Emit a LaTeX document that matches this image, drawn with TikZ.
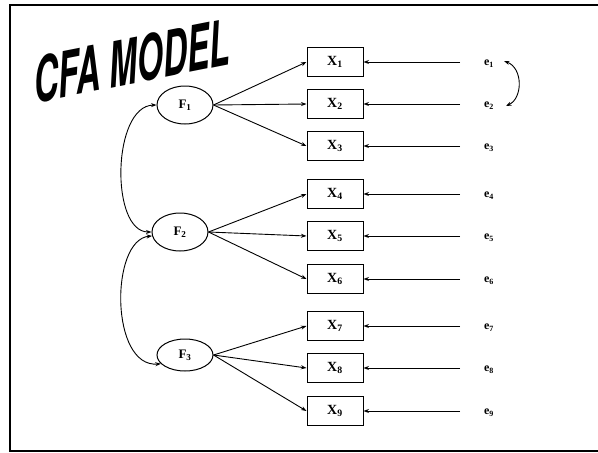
\documentclass[tikz,border=0pt]{standalone}
\usepackage{fontspec}
\setmainfont{Liberation Serif}
\newfontfamily\titlefont{TeX Gyre Heros}
\usetikzlibrary{arrows.meta,shapes.geometric}
\begin{document}
\begin{tikzpicture}[x=1pt,y=-1pt,
  obs/.style={draw,line width=1pt,minimum width=56pt,minimum height=29pt,inner sep=0pt,font=\fontsize{14}{14}\selectfont\bfseries},
  lat/.style={draw,ellipse,line width=1pt,minimum width=56pt,minimum height=38pt,inner sep=0pt,font=\fontsize{13}{13}\selectfont\bfseries},
  err/.style={font=\fontsize{12}{12}\selectfont\bfseries,inner sep=1pt},
  arr/.style={line width=0.9pt,-{Stealth[length=5.5pt,width=4pt]}},
  darr/.style={line width=0.9pt,{Stealth[length=5.5pt,width=4pt]}-{Stealth[length=5.5pt,width=4pt]}}
]
\useasboundingbox (0,0) rectangle (598,453);
% frame
\draw[line width=2pt] (598,5) -- (10,5) -- (10,451) -- (598,451);
% title
\node[font=\titlefont\fontsize{63}{63}\selectfont\bfseries\itshape,xscale=0.53,rotate=6] (ttl) at (132,61) {CFA MODEL};
% latent factors
\node[lat] (F1) at (185,105) {F$_{\mathbf 1}$};
\node[lat] (F2) at (180,232) {F$_{\mathbf 2}$};
\node[lat,minimum height=32pt] (F3) at (185,355) {F$_{\mathbf 3}$};
% observed
\foreach \i/\y in {1/62,2/104,3/146,4/194,5/236,6/279,7/326,8/368,9/411}{
  \node[obs] (X\i) at (335,\y) {X$_{\mathbf{\i}}$};
  \coordinate (c\i) at (460,\y);
  \node[err] (e\i) at (489,\y+2) {e$_{\mathbf{\i}}$};
  \draw[arr] (c\i) -- (X\i);
}
% loadings
\foreach \i in {1,2,3}{\draw[arr] (F1.east) -- (X\i.west);}
\foreach \i in {4,5,6}{\draw[arr] (F2.east) -- (X\i.west);}
\foreach \i in {7,8,9}{\draw[arr] (F3.east) -- (X\i.west);}
% factor covariances
\draw[darr] (F1.west) .. controls (112,106) and (110,232) .. (F2.west);
\draw[darr] (F2.188) .. controls (110,240) and (110,368) .. (F3.200);
% error covariance
\coordinate (a1) at (504,61);
\coordinate (a2) at (506,106);
\draw[darr] (a1) .. controls (523,68) and (523,98) .. (a2);
\end{tikzpicture}
\end{document}
